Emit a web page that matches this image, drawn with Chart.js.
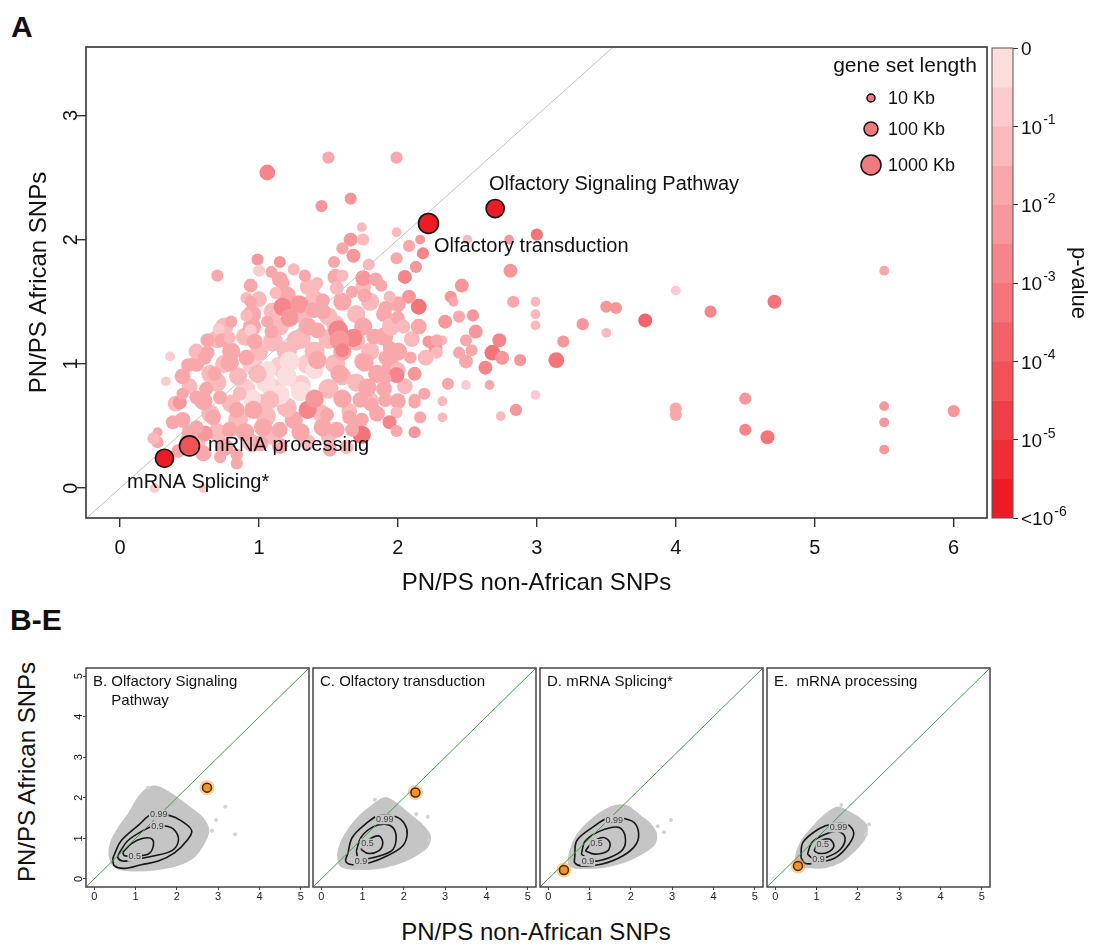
<!DOCTYPE html>
<html>
<head>
<meta charset="utf-8">
<script src="https://cdn.jsdelivr.net/npm/chart.js@4.4.0/dist/chart.umd.min.js"></script>
<style>
  body { margin: 0; background: #fff; }
  #fig { position: relative; width: 1093px; height: 945px; overflow: hidden;
         font-family: "Liberation Sans", Arial, Helvetica, sans-serif; color: #111; }
  #fig canvas { position: absolute; }
  .txt { position: absolute; white-space: nowrap; }
</style>
</head>
<body>
<div id="fig">
  <div class="txt" style="left:11px;top:10px;font-size:30px;font-weight:bold">A</div>
  <div class="txt" style="left:10px;top:603px;font-size:30px;font-weight:bold">B-E</div>
  <canvas id="main" width="990" height="600" style="left:0;top:0"></canvas>
  <canvas id="cbar" width="103" height="600" style="left:990px;top:0"></canvas>
  <canvas id="pB" width="254" height="250" style="left:56px;top:660px"></canvas>
  <canvas id="pC" width="228" height="250" style="left:309px;top:660px"></canvas>
  <canvas id="pD" width="228" height="250" style="left:536px;top:660px"></canvas>
  <canvas id="pE" width="228" height="250" style="left:763px;top:660px"></canvas>
  <div class="txt" style="left:-123px;top:757px;width:300px;height:30px;line-height:30px;text-align:center;font-size:24px;transform:rotate(-90deg)">PN/PS African SNPs</div>
  <div class="txt" style="left:236px;top:918px;width:600px;line-height:28px;text-align:center;font-size:24px">PN/PS non-African SNPs</div>
</div>
<script>
const FONT = '"Liberation Sans", Arial, Helvetica, sans-serif';
Chart.defaults.font.family = FONT;
Chart.defaults.color = '#111';

// ---- panel A ----
const xTicksA = [0, 1, 2, 3, 4, 5, 6];
const yTicksA = [0, 1, 2, 3];
const pExponents = [0, 1, 2, 3, 4, 5, 6];
const legendKb = [10, 100, 1000];
// colour bands of the p-value bar, two per decade, p = 1 at the top
const bandColors = ["#fcddde", "#fbcbcd", "#fababc", "#f8a8ab", "#f7979a", "#f5858a",
                    "#f47479", "#f36268", "#f15157", "#f03f46", "#ee2d35", "#ed1c24"];

// rows: [PN/PS non-African, PN/PS African, gene set length (Kb), -log10 p]
const cloudFill = [
  [0.55,0.35,500,1.2],[0.75,0.33,500,1.7],[0.95,0.36,500,1.2],[1.15,0.34,200,1.7],[1.35,0.37,200,1.2],
  [0.45,0.55,200,1.7],[0.65,0.60,500,1.2],[0.85,0.55,1000,1.2],[1.05,0.58,1000,1.2],[1.25,0.55,500,1.7],
  [1.45,0.60,500,1.2],[1.65,0.62,200,1.2],[1.85,0.60,200,1.7],
  [0.50,0.82,200,1.2],[0.70,0.85,500,1.2],[0.90,0.80,1000,0.7],[1.10,0.80,1000,0.7],[1.30,0.83,1000,0.7],
  [1.50,0.80,1000,1.2],[1.70,0.85,500,1.2],[1.90,0.80,200,1.7],[2.05,0.82,200,1.2],
  [0.55,1.00,200,1.7],[0.75,1.00,500,1.2],[0.95,1.00,1000,0.7],[1.15,0.98,1000,0.7],[1.35,1.00,1000,0.7],
  [1.55,1.00,1000,1.2],[1.75,1.02,500,1.2],[1.95,0.98,500,1.7],
  [0.70,1.20,500,1.2],[0.90,1.22,500,1.2],[1.10,1.18,1000,1.2],[1.30,1.20,1000,1.2],[1.50,1.20,1000,1.2],
  [1.70,1.18,500,1.2],[1.90,1.22,500,1.7],[2.10,1.20,200,1.2],
  [0.95,1.40,500,1.7],[1.10,1.42,500,1.2],[1.30,1.40,500,1.2],[1.50,1.38,500,1.2],[1.70,1.40,500,1.2],[1.90,1.40,200,1.7],
  [0.50,0.45,200,1.7],[0.70,0.45,500,1.2],[0.90,0.45,500,1.7],[1.10,0.42,500,1.2],[1.30,0.45,500,1.7],
  [1.50,0.42,200,1.2],[1.70,0.48,200,1.7],
  [0.40,0.68,200,1.2],[0.60,0.70,500,1.7],[0.80,0.68,500,1.2],[1.00,0.68,1000,1.2],[1.20,0.65,1000,1.2],
  [1.40,0.70,500,1.2],[1.60,0.72,500,1.7],[1.80,0.70,500,1.2],[2.00,0.70,200,1.7],
  [0.45,0.90,200,1.7],[0.65,0.92,500,1.2],[0.85,0.90,500,1.2],[1.60,0.90,500,1.2],[1.85,0.92,500,1.7],[2.00,0.95,200,1.2],
  [0.55,1.10,200,1.2],[0.80,1.10,500,1.7],[1.00,1.10,500,1.2],[1.20,1.10,1000,1.2],[1.40,1.10,1000,1.2],
  [1.60,1.10,500,1.7],[1.80,1.10,500,1.2],[2.00,1.10,500,1.7],[2.20,1.05,200,1.2],
  [0.75,1.30,500,1.2],[0.95,1.30,500,1.7],[1.15,1.30,500,1.2],[1.35,1.30,500,1.7],[1.55,1.32,500,1.2],
  [1.75,1.30,500,1.7],[1.95,1.30,500,1.2],[2.15,1.30,200,1.7],
  [1.00,1.52,200,1.2],[1.20,1.55,500,1.7],[1.40,1.52,500,1.2],[1.60,1.50,500,1.7],[1.80,1.50,500,1.2],[2.00,1.48,200,1.7],
  [1.15,1.68,200,1.7],[1.35,1.62,200,1.2],[1.55,1.70,200,1.7],[1.75,1.62,200,1.2]
];
const cloudCore = [
  [1.05,0.85,1000,0.2],[1.20,0.90,1000,0.2],[1.30,0.78,1000,0.2],[1.15,0.75,1000,0.2],
  [1.40,0.95,500,0.2],[1.22,1.02,1000,0.2],[1.06,0.95,500,0.2],[0.95,0.72,500,0.2]
];
const geneSets = [
  [1.50,2.66,50,1.7],[1.99,2.66,50,1.7],[1.06,2.54,200,2.7],[1.45,2.27,50,2.2],[1.66,2.33,50,2.2],
  [1.74,2.10,20,1.2],[1.99,2.06,20,1.2],[1.66,2.00,100,2.2],[1.75,2.00,50,1.2],[1.60,1.93,50,1.7],
  [1.68,1.87,100,2.2],[2.08,1.95,50,1.7],[2.16,2.00,20,2.2],[2.18,1.89,50,2.7],[1.99,1.85,50,1.7],
  [2.13,1.78,50,2.2],[2.05,1.70,100,2.7],[1.54,1.82,50,1.7],[1.60,1.71,50,1.2],[1.79,1.80,50,1.2],
  [0.70,1.71,50,1.7],[0.99,1.84,50,2.2],[1.15,1.82,50,2.2],[1.09,1.74,50,1.7],[1.25,1.76,50,1.2],
  [1.33,1.71,50,1.7],[1.00,1.75,50,0.7],[2.50,2.00,20,1.2],[2.80,2.00,20,2.2],[3.00,2.04,50,3.2],
  [2.81,1.75,100,2.2],[2.46,1.63,100,2.2],[2.15,1.46,200,3.2],[2.83,1.50,50,1.7],[2.99,1.50,20,1.2],
  [2.99,1.40,20,1.2],[2.99,1.31,20,1.2],[5.50,1.75,20,1.7],[4.00,1.59,20,0.7],[4.71,1.50,100,3.2],
  [4.25,1.42,50,2.7],[3.78,1.35,100,3.7],[3.50,1.46,50,2.2],[3.57,1.45,50,2.2],[3.50,1.25,20,1.2],
  [3.33,1.32,50,2.2],[3.19,1.18,50,2.2],[3.14,1.03,200,3.2],[2.88,1.03,50,2.2],[2.99,0.75,20,0.7],
  [2.85,0.63,50,2.2],[2.74,0.58,20,1.2],[2.66,0.83,20,1.7],[2.49,0.83,20,0.7],[2.36,0.84,50,1.7],
  [2.32,0.70,20,1.2],[2.32,0.57,20,1.2],[2.16,0.57,50,1.7],[2.12,0.45,50,2.2],[2.19,0.76,50,1.7],
  [4.00,0.64,50,1.7],[4.00,0.59,50,1.7],[4.50,0.72,50,2.2],[4.50,0.47,50,2.7],[4.66,0.41,100,3.2],
  [5.50,0.66,20,2.2],[5.50,0.53,20,2.2],[5.50,0.31,20,2.2],[6.00,0.62,50,2.2],
  [2.73,1.19,100,2.7],[2.68,1.09,200,3.2],[2.75,1.05,100,2.2],[2.63,0.97,100,2.7],[2.56,1.26,100,2.2],
  [2.54,1.39,50,2.2],[2.49,1.19,50,1.7],[2.49,1.02,100,1.7],[2.44,1.38,50,1.7],[2.44,1.09,50,1.7],
  [2.38,1.54,50,2.2],[2.40,1.50,20,1.7],[2.34,1.34,100,2.2],[2.32,1.19,20,1.2],[2.27,1.13,100,2.2],
  [2.22,1.18,50,2.2],[2.08,1.54,100,2.2],[2.12,0.92,100,2.2],[2.12,0.71,50,1.7],
  [0.91,1.53,50,1.2],[1.40,1.62,50,1.2],[1.17,1.65,100,1.7],[1.12,1.57,50,1.2],[0.94,1.63,100,1.7],
  [0.94,1.50,50,1.7],[0.91,1.39,50,1.2],[0.80,1.34,50,1.7],[0.71,1.28,50,0.7],[0.73,1.19,100,1.7],
  [0.63,1.19,100,1.7],[0.63,1.09,100,1.7],[0.36,1.06,20,0.7],[0.79,1.21,50,1.2],[0.94,1.27,50,0.7],
  [1.06,1.34,50,1.7],[1.09,1.26,100,1.7],[0.97,1.18,200,1.7],[1.17,1.46,500,2.7],[1.29,1.48,500,2.2],
  [1.22,1.37,500,2.2],[1.39,1.43,200,1.7],[1.27,1.19,1000,1.2],[1.42,1.27,200,1.7],
  [1.75,1.69,200,2.2],[1.84,1.68,100,1.7],[1.88,1.63,50,1.7],[1.76,1.55,100,1.7],[1.67,1.58,50,1.7],
  [1.56,1.61,100,1.2],[1.46,1.51,100,1.7],[1.42,1.65,50,1.2],[1.94,1.54,50,1.2],[1.57,1.27,1000,2.7],
  [1.68,1.21,500,2.7],[1.58,1.19,1000,2.2],[1.83,1.22,200,1.7],[1.91,1.45,100,1.7],[2.00,1.37,100,1.7],
  [2.04,1.30,100,1.2],[2.28,1.19,50,1.7],[2.53,1.11,50,1.7],[1.94,1.13,100,1.7],[1.46,1.42,200,1.7],
  [0.33,0.86,20,0.7],[0.49,0.99,100,1.7],[0.61,1.05,100,1.7],[0.68,0.92,100,1.7],[0.62,0.80,100,1.7],
  [0.43,0.69,100,2.2],[0.45,0.76,50,1.7],[0.38,0.53,100,1.7],[0.27,0.45,20,1.7],[0.27,0.37,50,1.7],
  [0.55,0.73,100,1.7],[0.72,0.73,100,1.7],[0.67,0.57,200,1.7],[0.61,0.44,200,2.2],[0.55,0.49,100,1.7],
  [0.79,0.47,200,1.7],[0.84,0.63,200,1.7],[0.86,0.76,100,1.2],[0.96,0.63,500,1.7],[1.08,0.71,500,1.2],
  [1.03,0.49,500,1.7],[1.15,0.47,200,1.7],[0.84,0.27,50,1.7],[0.72,0.25,50,1.7],[1.01,0.36,200,1.7],
  [0.79,1.01,500,1.7],[0.99,0.92,500,1.2],[0.91,1.05,200,1.7],
  [1.60,1.11,100,2.7],[1.42,1.03,500,1.7],[1.58,0.92,500,1.7],[1.76,1.01,500,1.7],[1.91,1.05,100,1.7],
  [1.99,0.91,200,2.7],[2.09,1.05,50,1.7],[2.28,1.09,50,1.2],[2.12,0.69,50,1.7],[1.99,0.61,50,1.2],
  [1.94,0.53,100,2.7],[1.99,0.46,50,1.7],[1.91,0.71,100,1.7],[1.81,0.67,100,1.7],[1.73,0.71,200,1.7],
  [1.74,0.55,100,1.7],[1.74,0.43,500,3.2],[1.35,0.63,500,2.7],[1.40,0.72,500,2.2],[1.49,0.59,100,1.7],
  [1.56,0.47,200,1.7],[1.46,0.49,500,1.7],[1.65,0.57,100,1.7],[1.63,0.33,100,1.2],[1.51,0.31,100,1.7],
  [1.67,0.47,100,1.7],[1.78,0.81,500,1.7],[1.91,0.88,50,1.7],
  [0.25,0.00,20,0.7],[0.60,0.28,200,1.7],[0.84,0.20,50,1.7],[0.60,0.00,20,0.7],
  [0.24,0.40,50,1.2],[0.42,0.30,100,1.7],[0.48,0.38,100,1.7]
];
const highlighted = [[0.32,0.24,500,6.5],[0.50,0.34,1000,4.2],[2.22,2.13,1000,6.5],[2.70,2.25,500,6.5]];
const highlightNames = ["mRNA Splicing*", "mRNA processing", "Olfactory transduction", "Olfactory Signaling Pathway"];
const nameAnchors = [[0.05,0.048],[0.633,0.346],[2.26,1.947],[2.655,2.446]];
const identity = [[-0.3,-0.3],[4,4]];

// ---- panels B-E ----
const panelTicks = [0, 1, 2, 3, 4, 5];
const panelTitles = [["B. ", "Olfactory Signaling", "Pathway"], ["C. ", "Olfactory transduction"],
                     ["D. ", "mRNA Splicing*"], ["E.  ", "mRNA processing"]];
const focalSets = [[2.73,2.25],[2.28,2.13],[0.38,0.22],[0.55,0.32]];
const cloudB = [[0.45,0.35],[0.38,0.6],[0.42,0.9],[0.6,1.25],[0.85,1.6],[1.05,1.95],[1.3,2.22],[1.55,2.25],[1.9,2.05],
                [2.3,1.75],[2.6,1.5],[2.75,1.2],[2.65,0.9],[2.4,0.55],[2.0,0.35],[1.5,0.25],[1.0,0.22],[0.65,0.25]];
const cloudC = [[0.45,0.35],[0.42,0.6],[0.5,0.9],[0.7,1.25],[0.95,1.55],[1.25,1.8],[1.55,1.98],[1.8,1.85],[2.1,1.6],
                [2.4,1.35],[2.62,1.05],[2.55,0.8],[2.2,0.55],[1.8,0.38],[1.3,0.27],[0.85,0.26],[0.6,0.28]];
const cloudD = [[0.5,0.4],[0.55,0.7],[0.7,1.05],[0.95,1.35],[1.25,1.6],[1.6,1.78],[1.9,1.78],[2.2,1.55],[2.45,1.35],
                [2.6,1.1],[2.55,0.85],[2.2,0.6],[1.8,0.42],[1.3,0.3],[0.85,0.28],[0.6,0.3]];
const cloudE = [[0.5,0.4],[0.55,0.7],[0.7,1.0],[0.95,1.3],[1.2,1.55],[1.5,1.75],[1.75,1.65],[2.0,1.5],[2.2,1.3],
                [2.15,1.0],[1.9,0.7],[1.6,0.45],[1.2,0.3],[0.8,0.3],[0.6,0.33]];
const strayB = [[3.17,1.78],[3.41,1.10],[2.85,1.19],[1.3,2.25],[2.95,1.45]];
const strayC = [[2.58,1.53],[2.6,0.95],[1.3,1.95],[2.3,1.6]];
const strayD = [[2.97,1.45],[2.8,1.15],[2.65,1.3]];
const strayE = [[2.27,1.35],[2.2,1.1],[1.6,1.82]];
const c99B = [[0.49,0.61],[0.65,0.94],[1.10,1.35],[1.38,1.58],[1.83,1.56],[2.11,1.43],[2.36,1.19],[2.24,0.94],[1.95,0.65],[1.55,0.44],[1.14,0.35],[0.73,0.26],[0.49,0.32],[0.45,0.49]];
const c90B = [[0.61,0.65],[0.81,0.94],[1.18,1.19],[1.42,1.29],[1.79,1.29],[1.99,1.14],[2.03,0.90],[1.87,0.69],[1.46,0.57],[1.06,0.49],[0.69,0.44],[0.57,0.53]];
const c50B = [[0.69,0.65],[0.90,0.87],[1.18,1.00],[1.40,0.98],[1.42,0.77],[1.30,0.61],[0.98,0.57],[0.73,0.57]];
const c99C = [[0.64,0.61],[0.75,1.02],[1.07,1.35],[1.39,1.56],[1.81,1.53],[2.02,1.35],[2.08,1.10],[1.97,0.81],[1.60,0.57],[1.17,0.40],[0.75,0.35],[0.59,0.44]];
const c90C = [[0.85,0.69],[0.96,1.02],[1.23,1.27],[1.54,1.35],[1.76,1.23],[1.81,0.94],[1.70,0.69],[1.28,0.53],[0.91,0.49]];
const c50C = [[0.96,0.73],[1.12,0.94],[1.39,1.06],[1.49,0.90],[1.39,0.69],[1.12,0.63]];
const c99D = [[0.64,0.53],[0.69,0.94],[1.07,1.27],[1.49,1.51],[2.02,1.43],[2.18,1.19],[2.13,0.86],[1.81,0.57],[1.28,0.36],[0.80,0.32],[0.64,0.40]];
const c90D = [[0.80,0.61],[0.90,0.94],[1.28,1.19],[1.71,1.27],[1.86,1.06],[1.81,0.73],[1.49,0.53],[1.07,0.44]];
const c50D = [[0.90,0.69],[1.07,0.90],[1.33,1.02],[1.49,0.90],[1.44,0.69],[1.12,0.61]];
const c99E = [[0.62,0.53],[0.67,0.90],[1.05,1.23],[1.37,1.35],[1.74,1.35],[1.90,1.14],[1.79,0.86],[1.47,0.53],[1.05,0.40],[0.73,0.38]];
const c90E = [[0.78,0.61],[0.89,0.90],[1.21,1.10],[1.53,1.17],[1.69,1.02],[1.58,0.73],[1.26,0.54],[0.94,0.49]];
const c50E = [[0.94,0.69],[1.05,0.90],[1.31,0.98],[1.42,0.81],[1.26,0.65],[1.05,0.63]];
const contourLabels = [
  [[1.56,1.58,"0.99"],[1.53,1.28,"0.9"],[0.98,0.55,"0.5"]],
  [[1.54,1.47,"0.99"],[0.96,0.44,"0.9"],[1.12,0.87,"0.5"]],
  [[1.60,1.45,"0.99"],[0.96,0.44,"0.9"],[1.17,0.86,"0.5"]],
  [[1.53,1.27,"0.99"],[1.05,0.47,"0.9"],[1.15,0.84,"0.5"]]
];
const panelDiag = [[-0.2,-0.2],[5.2,5.2]];

// ---------- helpers / plugins ----------
const radiusFor = kb => 4 + 3 * Math.log10(kb / 10);
const colorFor = mlp => bandColors[Math.min(bandColors.length - 1, Math.floor(mlp * 2))];
const fixedTicks = values => s => { s.ticks = values.map(v => ({ value: v })); };
const closed = pts => pts.concat([pts[0]]);
// fixed axis thickness, and no extra room for overhanging edge labels
const fixedSize = (prop, px) => s => { s[prop] = px; s.paddingLeft = s.paddingRight = s.paddingTop = s.paddingBottom = 0; };

function bubbles(rows, order, extra) {
  return Object.assign({
    type: "bubble",
    data: rows.map(([x, y, kb]) => ({ x, y, r: radiusFor(kb) })),
    backgroundColor: rows.map(r => colorFor(r[3])),
    borderWidth: 0,
    order
  }, extra || {});
}

const frame = {
  id: "frame",
  afterDraw(chart, args, o) {
    const { ctx, chartArea: a } = chart;
    ctx.save();
    ctx.strokeStyle = o.color;
    ctx.lineWidth = o.width;
    ctx.strokeRect(a.left, a.top, a.right - a.left, a.bottom - a.top);
    ctx.restore();
  }
};

// R style: y tick labels turned to read upwards
const upTicks = {
  id: "upTicks",
  afterDraw(chart, args, o) {
    if (!o.show) return;
    const { ctx, chartArea: a } = chart, s = chart.scales.y;
    ctx.save();
    ctx.font = o.size + "px " + FONT;
    ctx.fillStyle = "#111";
    ctx.textAlign = "center";
    ctx.textBaseline = "middle";
    s.ticks.forEach(t => {
      ctx.save();
      ctx.translate(a.left - o.offset, s.getPixelForValue(t.value));
      ctx.rotate(-Math.PI / 2);
      ctx.fillText(String(t.value), 0, 0);
      ctx.restore();
    });
    ctx.restore();
  }
};

const notes = {
  id: "notes",
  afterDraw(chart) {
    const { ctx, scales: { x, y } } = chart;
    ctx.save();
    ctx.fillStyle = "#111";
    ctx.textBaseline = "middle";
    ctx.font = "20px " + FONT;
    highlightNames.forEach((name, i) => {
      ctx.fillText(name, x.getPixelForValue(nameAnchors[i][0]), y.getPixelForValue(nameAnchors[i][1]));
    });
    // size legend
    ctx.font = "21px " + FONT;
    ctx.textAlign = "center";
    ctx.fillText("gene set length", 905, 66);
    ctx.textAlign = "left";
    ctx.font = "18px " + FONT;
    const rowsY = [98, 129, 165];
    legendKb.forEach((kb, i) => {
      ctx.beginPath();
      ctx.arc(871, rowsY[i], radiusFor(kb), 0, Math.PI * 2);
      ctx.fillStyle = "#f17a7e";
      ctx.fill();
      ctx.lineWidth = 1.5;
      ctx.strokeStyle = "#111";
      ctx.stroke();
      ctx.fillStyle = "#111";
      ctx.fillText(kb + " Kb", 888, rowsY[i] + 1);
    });
    ctx.restore();
  }
};

// ---------- panel A ----------
new Chart(document.getElementById("main"), {
  type: "scatter",
  data: {
    datasets: [
      bubbles(highlighted, 0, { borderColor: "#111", borderWidth: 1.6 }),
      { type: "scatter", data: identity, showLine: true, pointRadius: 0, borderColor: "#c4c4c4", borderWidth: 1, order: 1 },
      bubbles(geneSets, 2),
      bubbles(cloudCore, 3),
      bubbles(cloudFill, 4)
    ]
  },
  options: {
    responsive: false,
    animation: false,
    events: [],
    layout: { autoPadding: false, padding: { left: 0, top: 47, right: 3, bottom: 0 } },
    plugins: {
      legend: { display: false },
      tooltip: { enabled: false },
      frame: { color: "#333", width: 1.6 },
      upTicks: { show: true, size: 20, offset: 15 }
    },
    scales: {
      x: {
        type: "linear", min: -0.245, max: 6.24,
        afterBuildTicks: fixedTicks(xTicksA),
        afterFit: fixedSize("height", 82),
        ticks: { font: { size: 20 }, color: "#111", padding: 9 },
        grid: { drawOnChartArea: false, tickLength: 9, color: "#333", lineWidth: 1.4 },
        border: { display: false },
        title: { display: true, text: "PN/PS non-African SNPs", font: { size: 24 }, color: "#111", padding: { top: 0, bottom: 2 } }
      },
      y: {
        type: "linear", min: -0.24, max: 3.55,
        afterBuildTicks: fixedTicks(yTicksA),
        afterFit: fixedSize("width", 86),
        ticks: { display: false },
        grid: { drawOnChartArea: false, tickLength: 9, color: "#333", lineWidth: 1.4 },
        border: { display: false },
        title: { display: true, text: "PN/PS African SNPs", font: { size: 24 }, color: "#111", padding: { top: 25, bottom: 0 } }
      }
    }
  },
  plugins: [frame, upTicks, notes]
});

// ---------- p-value colour bar ----------
const pLabels = {
  id: "pLabels",
  afterDraw(chart) {
    const { ctx, chartArea: a } = chart, s = chart.scales.y;
    const x0 = a.right + 8, last = pExponents[pExponents.length - 1];
    ctx.save();
    ctx.fillStyle = "#111";
    ctx.textBaseline = "middle";
    pExponents.forEach(e => {
      const y = s.getPixelForValue(e);
      const base = e === 0 ? "0" : (e === last ? "<10" : "10");
      ctx.font = "19px " + FONT;
      ctx.fillText(base, x0, y + 2);
      if (e > 0) {
        const w = ctx.measureText(base).width;
        ctx.font = "14px " + FONT;
        ctx.fillText("-" + e, x0 + w + 1, y - 6);
      }
    });
    ctx.restore();
  }
};

new Chart(document.getElementById("cbar"), {
  type: "bar",
  data: {
    labels: ["p"],
    datasets: bandColors.map(c => ({ data: [0.5], backgroundColor: c, borderWidth: 0 }))
  },
  options: {
    responsive: false,
    animation: false,
    events: [],
    layout: { autoPadding: false, padding: { left: 2, top: 48, right: 0, bottom: 82 } },
    barPercentage: 1,
    categoryPercentage: 1,
    plugins: { legend: { display: false }, tooltip: { enabled: false }, frame: { color: "#555", width: 1 } },
    scales: {
      x: { display: false, stacked: true },
      y: {
        stacked: true, position: "right", reverse: true, min: 0, max: 6,
        afterBuildTicks: fixedTicks(pExponents),
        afterFit: fixedSize("width", 80),
        ticks: { display: false },
        grid: { drawOnChartArea: false, tickLength: 5, color: "#333" },
        border: { display: false },
        title: { display: true, text: "p-value", font: { size: 22 }, color: "#111", padding: { top: 2, bottom: 0 } }
      }
    }
  },
  plugins: [frame, pLabels]
});

// ---------- panels B-E ----------
const panelText = {
  id: "panelText",
  afterDatasetsDraw(chart, args, o) {
    const { ctx, chartArea: a, scales: { x, y } } = chart;
    ctx.save();
    ctx.textBaseline = "middle";
    // contour level labels break the lines
    ctx.font = "9px " + FONT;
    ctx.textAlign = "center";
    o.levels.forEach(([lx, ly, t]) => {
      const px = x.getPixelForValue(lx), py = y.getPixelForValue(ly);
      const w = ctx.measureText(t).width;
      ctx.fillStyle = "#c5c5c5";
      ctx.fillRect(px - w / 2 - 1, py - 5, w + 2, 10);
      ctx.fillStyle = "#444";
      ctx.fillText(t, px, py);
    });
    ctx.textAlign = "left";
    ctx.font = "15px " + FONT;
    ctx.fillStyle = "#111";
    const [prefix, ...lines] = o.title;
    const x0 = a.left + 7, indent = ctx.measureText(prefix).width;
    ctx.fillText(prefix + lines[0], x0, a.top + 14);
    lines.slice(1).forEach((l, i) => ctx.fillText(l, x0 + indent, a.top + 33 + i * 19));
    ctx.restore();
  }
};

function panel(id, i, cloud, stray, contours, showY) {
  const focal = [focalSets[i]];
  new Chart(document.getElementById(id), {
    type: "scatter",
    data: {
      datasets: [
        { data: focal, pointRadius: 4.5, backgroundColor: "#f7931e", borderColor: "#3b2a1c", borderWidth: 1.5, order: 0 },
        { data: focal, pointRadius: 7.5, backgroundColor: "rgba(247,147,30,0.45)", borderWidth: 0, order: 1 },
        { data: panelDiag, showLine: true, pointRadius: 0, borderColor: "#3f9e50", borderWidth: 1, order: 2 },
        ...contours.map(c => ({ data: closed(c), showLine: true, pointRadius: 0, borderColor: "#161616",
                                 borderWidth: 1.6, tension: 0.35, order: 3 })),
        { data: stray, pointRadius: 2, backgroundColor: "#d2d2d2", borderWidth: 0, order: 4 },
        { data: closed(cloud), showLine: true, fill: "shape", pointRadius: 0, tension: 0.3,
          borderColor: "#c5c5c5", backgroundColor: "#c5c5c5", borderWidth: 3, order: 5 }
      ]
    },
    options: {
      responsive: false,
      animation: false,
      events: [],
      layout: { autoPadding: false, padding: { left: showY ? 0 : 4, top: 8, right: 1, bottom: 0 } },
      plugins: {
        legend: { display: false },
        tooltip: { enabled: false },
        frame: { color: "#444", width: 1.5 },
        upTicks: { show: showY, size: 11, offset: 7.5 },
        panelText: { levels: contourLabels[i], title: panelTitles[i] }
      },
      scales: {
        x: {
          type: "linear", min: -0.2, max: 5.2,
          afterBuildTicks: fixedTicks(panelTicks),
          afterFit: fixedSize("height", 23),
          ticks: { font: { size: 11 }, color: "#222", padding: 0 },
          grid: { drawOnChartArea: false, tickLength: 3, color: "#444" },
          border: { display: false }
        },
        y: {
          type: "linear", min: -0.2, max: 5.2, display: showY,
          afterBuildTicks: fixedTicks(panelTicks),
          afterFit: fixedSize("width", showY ? 30 : 0),
          ticks: { display: false },
          grid: { drawOnChartArea: false, tickLength: 3, color: "#444" },
          border: { display: false }
        }
      }
    },
    plugins: [frame, upTicks, panelText]
  });
}

panel("pB", 0, cloudB, strayB, [c99B, c90B, c50B], true);
panel("pC", 1, cloudC, strayC, [c99C, c90C, c50C], false);
panel("pD", 2, cloudD, strayD, [c99D, c90D, c50D], false);
panel("pE", 3, cloudE, strayE, [c99E, c90E, c50E], false);
</script>
</body>
</html>
